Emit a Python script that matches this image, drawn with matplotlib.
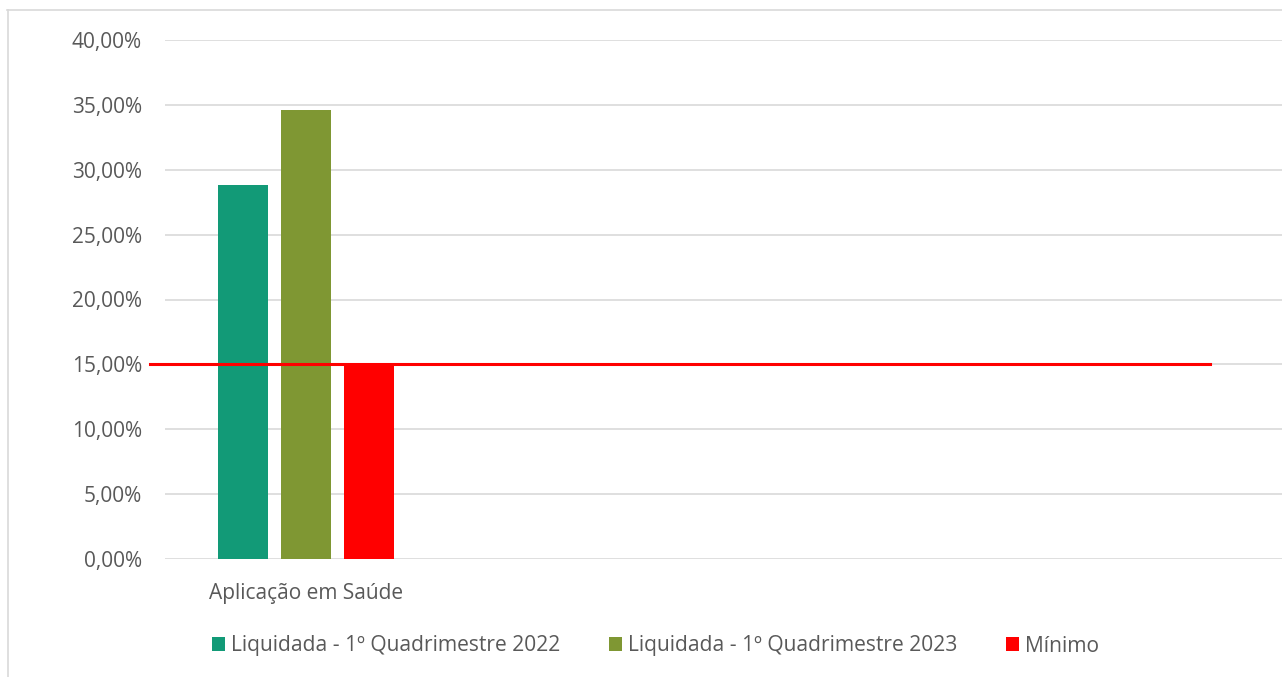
import numpy as np
import matplotlib.pyplot as plt
from matplotlib.patches import Patch
from matplotlib.lines import Line2D
from matplotlib.ticker import FuncFormatter, MultipleLocator

# data
categories = ["Aplicação em Saúde"]
series_names = ["Liquidada - 1º Quadrimestre 2022",
                "Liquidada - 1º Quadrimestre 2023",
                "Mínimo"]
liquidada_2022 = [0.2882]
liquidada_2023 = [0.3462]
minimo = [0.15]
minimo_line = 0.15

colors = ["#129A77", "#7F9733", "#FF0000"]
text_color = "#595959"
grid_color = "#D9D9D9"

plt.rcParams['font.family'] = ['Open Sans', 'DejaVu Sans']

W, H = 1282, 677
fig = plt.figure(figsize=(W / 100, H / 100), dpi=100)
ax = fig.add_axes([165 / W, (H - 559) / H, 1 - 165 / W, (559 - 40) / H])

x = np.arange(len(categories))
bar_w = 0.177
step = 0.223
series = [liquidada_2022, liquidada_2023, minimo]
for i, (vals, col, name) in enumerate(zip(series, colors, series_names)):
    ax.bar(x + (i - 1) * step, vals, width=bar_w, color=col, label=name, zorder=2)

# reference line for the minimum
ax.axhline(minimo_line, xmin=-0.013, xmax=0.9355, color=colors[2],
           linewidth=2.2, clip_on=False, zorder=3)

ax.set_xlim(-0.5, -0.5 + (W - 165) / 282)
ax.set_ylim(0, 0.40)
ax.yaxis.set_major_locator(MultipleLocator(0.05))
ax.yaxis.set_major_formatter(FuncFormatter(lambda v, p: f"{v * 100:.2f}%".replace(".", ",")))
ax.set_xticks(x)
ax.set_xticklabels(categories)
ax.grid(axis='y', color=grid_color, linewidth=1.2, zorder=0)
ax.set_axisbelow(True)
for s in ax.spines.values():
    s.set_visible(False)
ax.tick_params(axis='both', length=0, labelsize=15, labelcolor=text_color)
ax.tick_params(axis='y', pad=16.5)
ax.tick_params(axis='x', pad=17)

handles = [Patch(facecolor=c, edgecolor='none') for c in colors]
fig.legend(handles, series_names, loc='center', bbox_to_anchor=(655.5 / W, (H - 646) / H),
           ncol=3, frameon=False, fontsize=15.1, labelcolor=text_color,
           handlelength=0.62, handleheight=0.62, handletextpad=0.3,
           columnspacing=2.3, borderpad=0, borderaxespad=0)

# chart area border (left and top edges visible)
fig.add_artist(Line2D([7.5 / W, 7.5 / W], [0, (H - 10) / H], transform=fig.transFigure,
                      color=grid_color, linewidth=1.2))
fig.add_artist(Line2D([7 / W, 1], [(H - 10) / H, (H - 10) / H], transform=fig.transFigure,
                      color=grid_color, linewidth=1.2))

fig.savefig("out.png", dpi=100)
plt.close()
